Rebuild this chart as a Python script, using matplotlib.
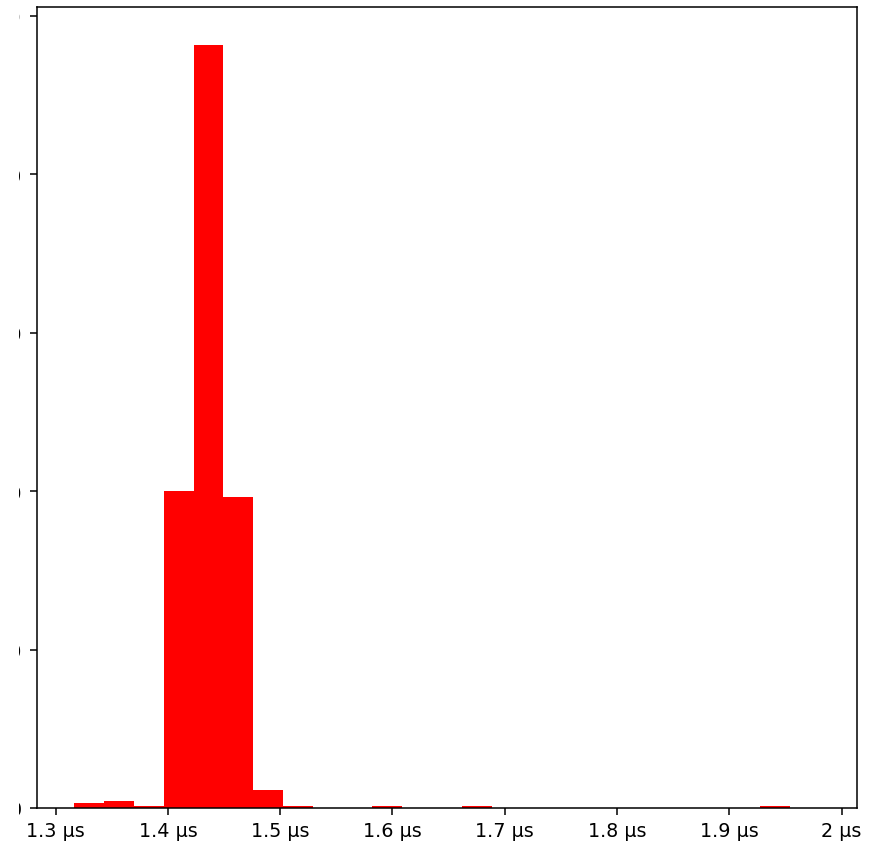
import matplotlib
matplotlib.use("Agg")
import matplotlib.pyplot as plt
from matplotlib.ticker import EngFormatter, MultipleLocator
from matplotlib.transforms import Bbox
import numpy as np

# histogram bins (seconds) and counts
bin_start = 1.3166e-6
bin_width = 0.02656e-6
counts = [6, 9, 3, 400, 963, 393, 23, 2, 0, 0,
          2, 0, 0, 2, 0, 0, 0, 0, 0, 0,
          0, 0, 0, 2, 0]

edges = bin_start + bin_width * np.arange(len(counts))

dpi = 138
fig = plt.figure(figsize=(871 / dpi, 842 / dpi), dpi=dpi)
ax = fig.add_axes([37 / 871, 33 / 842, 820 / 871, 801 / 842])

ax.bar(edges, counts, width=bin_width, align='edge', color='red')

ax.xaxis.set_major_formatter(EngFormatter(unit='s'))
ax.xaxis.set_major_locator(MultipleLocator(1e-7))
ax.yaxis.set_major_locator(MultipleLocator(200))
ax.tick_params(axis='y', pad=4.5)

# the screenshot is cropped just through the y tick labels
fig.canvas.draw()
crop = Bbox.from_extents(19, 0, 871, 842)
for lab in ax.get_yticklabels():
    lab.set_clip_box(crop)
    lab.set_clip_on(True)

fig.savefig("out.png", dpi=dpi)
